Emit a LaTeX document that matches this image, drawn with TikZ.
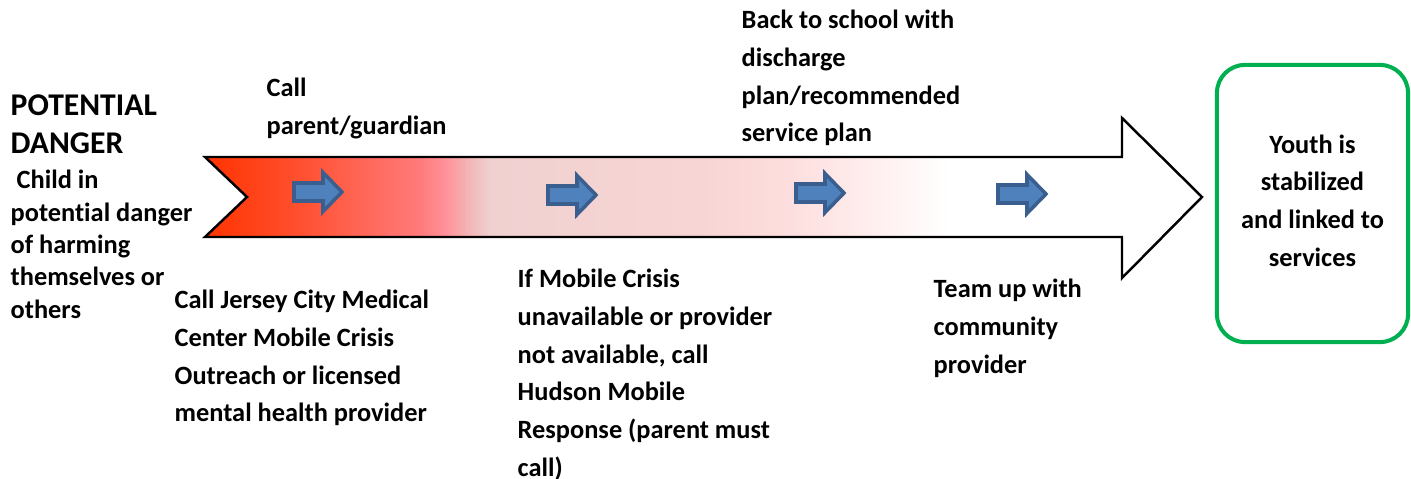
\documentclass[tikz,border=0pt]{standalone}
\usepackage{fontspec}
\setmainfont{Carlito}[Ligatures=CommonOff]
\usetikzlibrary{arrows.meta}

\definecolor{dangerRed}{RGB}{255,51,0}
\definecolor{dangerOrange}{RGB}{255,80,48}
\definecolor{dangerSalmon}{RGB}{255,123,123}
\definecolor{dangerPink}{RGB}{255,144,152}
\definecolor{dangerRose}{RGB}{242,184,184}
\definecolor{dangerBlush}{RGB}{240,208,208}
\definecolor{dangerLight}{RGB}{248,213,213}
\definecolor{dangerPale}{RGB}{253,220,220}
\definecolor{dangerFaint}{RGB}{255,238,238}
\definecolor{markFill}{RGB}{79,129,189}
\definecolor{markLine}{RGB}{58,95,143}
\definecolor{youthGreen}{RGB}{0,176,80}

% red to white fade along the big arrow
\pgfdeclarehorizontalshading{dangerfade}{100bp}{
  color(0bp)=(dangerRed);
  color(25bp)=(dangerRed);
  color(29.75bp)=(dangerOrange);
  color(35.8bp)=(dangerSalmon);
  color(37bp)=(dangerPink);
  color(38.3bp)=(dangerRose);
  color(39.3bp)=(dangerBlush);
  color(49.8bp)=(dangerLight);
  color(53.85bp)=(dangerPale);
  color(58.35bp)=(dangerFaint);
  color(62.35bp)=(white);
  color(100bp)=(white)}

\newcommand\lblfont{\bfseries\fontsize{7.5}{10.73}\selectfont}
\newcommand\leftfont{\bfseries\fontsize{7.5}{9.2}\selectfont}
\newcommand\titlefont{\bfseries\fontsize{9}{10.8}\selectfont}
\newcommand\topstrut{\rule{0pt}{7pt}}
\newcommand\botstrut{\rule[-3.5pt]{0pt}{0pt}}

\begin{document}
\begin{tikzpicture}[x=0.01cm, y=-0.01cm,
    lbl/.style={anchor=north west, inner sep=0pt, align=left, font=\lblfont},
    stepmark/.pic={
      \draw[markLine, line width=1pt, fill=markFill]
        (-24,-9) -- (5,-9) -- (5,-19.5) -- (24,0) -- (5,19.5) -- (5,9) -- (-24,9) -- cycle;
    }]
\useasboundingbox (0,0) rectangle (1411,479);

%% big arrow with notched tail
\shadedraw[shading=dangerfade, draw=black, line width=0.7pt]
  (205,157) -- (1122,157) -- (1122,118) -- (1202,197) -- (1122,278)
  -- (1122,237) -- (205,237) -- (247,197) -- cycle;

%% small step arrows
\foreach \mx/\my in {318/192, 572/195, 820/193, 1022/194}
  \pic at (\mx,\my) {stepmark};

%% left side
\node[lbl, font=\titlefont] (danger) at (10,90.4) {\topstrut POTENTIAL\\DANGER};
\node[lbl, font=\leftfont] (child) at (10,163.4)
  {\topstrut\ Child in\\potential danger\\of harming\\themselves or\\others};

%% steps above the arrow
\node[lbl] (parent) at (266,71.4) {\topstrut Call\\parent/guardian};
\node[lbl] (school) at (741,3.4)
  {\topstrut Back to school with\\discharge\\plan/recommended\\service plan};

%% steps below the arrow
\node[lbl] (jcmc) at (174,283.4)
  {\topstrut Call Jersey City Medical\\Center Mobile Crisis\\Outreach or licensed\\mental health provider};
\node[lbl] (hudson) at (517,262.4)
  {\topstrut If Mobile Crisis\\unavailable or provider\\not available, call\\Hudson Mobile\\Response (parent must\\call)};
\node[lbl] (teamup) at (933,272.4) {\topstrut Team up with\\community\\provider};

%% outcome
\node[draw=youthGreen, line width=1.15pt, rounded corners=0.28cm,
      minimum width=1.91cm, minimum height=2.77cm, inner sep=0pt,
      align=center, font=\lblfont] (youth) at (1312.5,203.5)
  {\topstrut Youth is\\stabilized\\and linked to\\services\botstrut};
\end{tikzpicture}
\end{document}
